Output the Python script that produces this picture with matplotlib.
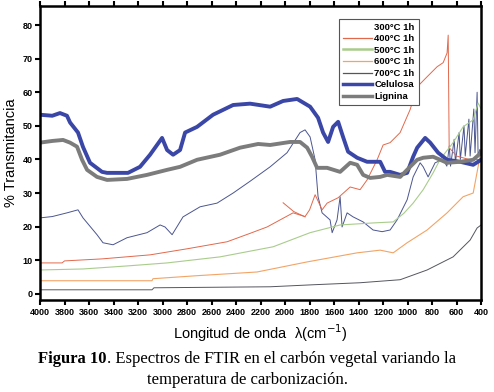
import matplotlib.pyplot as plt
import numpy as np

# wavenumbers (cm-1) and % transmittance
wn_cel = [4000, 3900, 3837, 3780, 3755, 3690, 3649, 3592, 3494, 3453, 3282, 3184, 3102, 3004,
          2963, 2914, 2857, 2816, 2718, 2588, 2424, 2286, 2122, 2016, 1902, 1796, 1731, 1690,
          1649, 1608, 1567, 1527, 1486, 1412, 1331, 1224, 1184, 1143, 1061, 1004, 955, 922,
          857, 816, 751, 678, 571, 465, 400]
t_cel = [53.3, 53.0, 53.8, 53.0, 51.0, 48.0, 43.7, 39.0, 36.3, 36.0, 36.0, 37.8, 41.4, 46.4,
         42.8, 41.4, 42.8, 48.0, 49.7, 53.3, 56.2, 56.6, 55.7, 57.4, 58.0, 55.7, 52.4, 48.0,
         45.2, 49.7, 51.2, 46.7, 42.3, 40.5, 39.3, 39.3, 36.3, 36.3, 35.4, 36.0, 40.8, 43.5,
         46.4, 45.0, 42.0, 39.9, 39.3, 38.4, 39.9]

wn_lig = [4000, 3900, 3812, 3755, 3698, 3657, 3616, 3535, 3453, 3290, 3127, 2963, 2857, 2718,
          2531, 2367, 2220, 2122, 1959, 1878, 1820, 1780, 1739, 1657, 1551, 1469, 1412, 1363,
          1306, 1224, 1167, 1061, 980, 922, 873, 792, 678, 571, 465, 400]
t_lig = [45.0, 45.5, 45.8, 45.0, 43.8, 39.9, 36.9, 34.8, 33.9, 34.2, 35.4, 36.9, 37.8, 39.9,
         41.4, 43.5, 44.6, 44.3, 45.2, 45.2, 43.5, 40.8, 37.5, 37.5, 36.3, 39.0, 38.4, 35.4,
         34.5, 34.8, 35.4, 34.8, 37.8, 39.9, 40.5, 40.8, 39.0, 39.3, 39.9, 42.0]

wn_300 = [4000, 3900, 3780, 3690, 3649, 3535, 3486, 3404, 3290, 3127, 3020, 2980, 2922, 2833,
          2694, 2555, 2424, 2286, 2122, 1984, 1878, 1837, 1796, 1755, 1731, 1698, 1633, 1616,
          1576, 1551, 1535, 1494, 1445, 1363, 1282, 1208, 1143, 1086, 1004, 955, 898, 873,
          833, 776, 710, 680, 660, 650, 620, 610, 580, 570, 540, 530, 500, 490, 460, 450,
          433, 425, 410, 400]
t_300 = [22.6, 23.0, 24.1, 25.0, 22.6, 17.6, 15.2, 14.6, 16.7, 18.2, 20.5, 19.9, 17.6, 22.9,
         25.9, 27.0, 30.0, 33.5, 37.8, 42.0, 48.0, 48.8, 46.7, 39.9, 28.9, 24.1, 22.0, 18.2,
         22.0, 28.9, 19.9, 24.1, 22.9, 21.4, 19.0, 18.5, 19.0, 22.0, 28.0, 34.8, 39.0, 37.8,
         34.8, 39.0, 40.0, 38.0, 44.0, 38.0, 46.0, 39.0, 48.0, 40.0, 50.0, 41.0, 52.0, 41.0,
         55.0, 42.0, 60.0, 41.0, 43.0, 42.0]

wn_400 = [4000, 3820, 3800, 3494, 3102, 2800, 2473, 2286, 2147, 1935, 1837, 1800, 1755, 1698,
          1657, 1567, 1469, 1388, 1331, 1249, 1200, 1143, 1061, 980, 922, 841, 759, 710, 678,
          669, 661, 600, 500, 400]
t_400 = [9.2, 9.2, 9.8, 10.4, 11.6, 13.4, 15.5, 18.0, 19.9, 24.1, 23.0, 25.0, 29.5, 25.0,
         27.0, 28.6, 31.8, 31.0, 33.9, 39.9, 44.3, 45.0, 48.0, 54.8, 61.6, 64.6, 67.6, 68.8,
         71.7, 77.0, 43.5, 41.0, 40.0, 40.0]
wn_400b = [2016, 1930, 1837]
t_400b = [27.1, 24.5, 22.9]

wn_500 = [4000, 3649, 3290, 2963, 2531, 2098, 1796, 1551, 1282, 1118, 1030, 955, 873, 792,
          735, 629, 547, 465, 425, 400]
t_500 = [7.1, 7.4, 8.3, 9.2, 11.0, 14.0, 18.2, 20.5, 21.1, 21.4, 24.0, 27.0, 31.0, 36.0,
         40.0, 45.0, 49.7, 51.8, 56.8, 55.0]

wn_600 = [4000, 3086, 3078, 2718, 2229, 1820, 1412, 1224, 1118, 1004, 841, 678, 547, 465,
          425, 400]
t_600 = [3.9, 3.9, 4.5, 5.4, 6.5, 9.5, 12.2, 13.0, 12.2, 15.2, 19.0, 24.1, 28.9, 30.0,
         37.8, 43.0]

wn_700 = [4000, 3086, 3070, 2122, 1771, 1388, 1061, 841, 629, 490, 433, 400]
t_700 = [1.2, 1.2, 1.8, 2.1, 2.7, 3.3, 4.2, 7.1, 11.0, 16.0, 19.6, 20.5]

plt.rcParams['font.family'] = ['Liberation Sans', 'DejaVu Sans']

fig = plt.figure(figsize=(4.94, 3.92), dpi=100)
ax = fig.add_axes([0.081, 0.235, 0.893, 0.75])

ax.plot(wn_300, t_300, color='#4b5590', lw=0.7)
ax.plot(wn_400, t_400, color='#e2684c', lw=0.7)
ax.plot(wn_400b, t_400b, color='#e2684c', lw=0.7)
ax.plot(wn_500, t_500, color='#a9cc8c', lw=0.8)
ax.plot(wn_600, t_600, color='#f2a466', lw=0.8)
ax.plot(wn_700, t_700, color='#55555f', lw=0.7)
ax.plot(wn_cel, t_cel, color='#3a47a6', lw=2.8)
ax.plot(wn_lig, t_lig, color='#7c7c7c', lw=2.8)

# legend handles (the 300°C entry shows no line in the original)
handles = [plt.Line2D([], [], color='white', lw=0.8),
           plt.Line2D([], [], color='#e2684c', lw=0.9),
           plt.Line2D([], [], color='#a9cc8c', lw=1.8),
           plt.Line2D([], [], color='#f2a466', lw=0.9),
           plt.Line2D([], [], color='#55555f', lw=0.9),
           plt.Line2D([], [], color='#3a47a6', lw=2.5),
           plt.Line2D([], [], color='#7c7c7c', lw=2.5)]
labels = ['300°C 1h', '400°C 1h', '500°C 1h', '600°C 1h', '700°C 1h', 'Celulosa', 'Lignina']
leg = ax.legend(handles, labels, loc='upper left', bbox_to_anchor=(0.668, 0.972),
                fancybox=False, framealpha=1, edgecolor='#555555', borderpad=0.4,
                labelspacing=0.27, handlelength=3.0, handletextpad=0.3,
                prop={'size': 6.8, 'weight': 'bold'})
leg.get_frame().set_linewidth(0.8)

ax.set_xlim(4000, 400)
ax.set_ylim(-1.8, 85.7)
ax.set_xticks(np.arange(4000, 399, -200))
ax.set_yticks(np.arange(0, 81, 10))
ax.tick_params(axis='both', labelsize=6.5, width=1.5, length=3.5, pad=2)
ax.tick_params(axis='x', top=True, labeltop=False)
for lab in ax.get_xticklabels() + ax.get_yticklabels():
    lab.set_fontweight('bold')
for s in ax.spines.values():
    s.set_linewidth(1.8)

ax.set_xlabel('Longitud de onda  λ(cm$^{-1}$)', fontsize=10.5, labelpad=4)
ax.set_ylabel('% Transmitancia', fontsize=10.5, labelpad=3)

# caption, "Figura 10" in bold
cap_font = ['Liberation Serif', 'DejaVu Serif']
t1 = fig.text(0, 0.073, 'Figura 10', fontsize=12, weight='bold', family=cap_font)
t2 = fig.text(0, 0.073, '. Espectros de FTIR en el carbón vegetal variando la',
              fontsize=12, family=cap_font)
fig.canvas.draw()
r = fig.canvas.get_renderer()
w1 = t1.get_window_extent(r).width / fig.bbox.width
w2 = t2.get_window_extent(r).width / fig.bbox.width
x0 = 0.5 - (w1 + w2) / 2
t1.set_x(x0)
t2.set_x(x0 + w1)
fig.text(0.5, 0.021, 'temperatura de carbonización.', fontsize=12, ha='center',
         family=cap_font)

fig.savefig('out.png', dpi=100)
